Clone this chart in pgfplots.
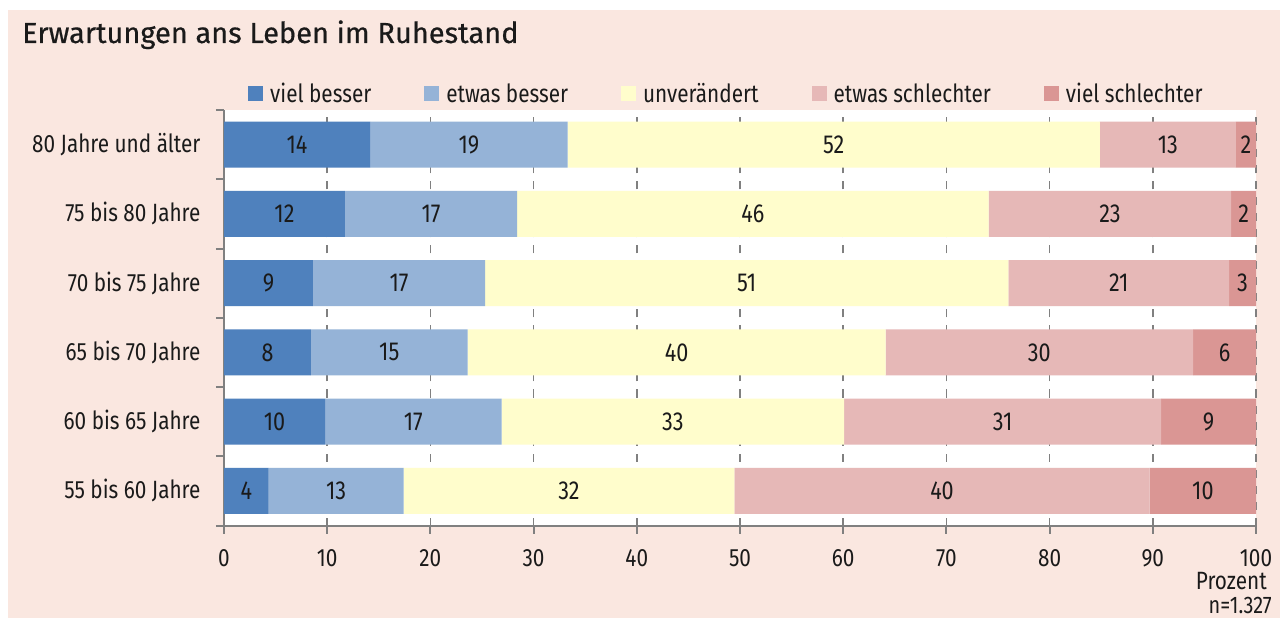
\documentclass[border=0pt]{standalone}
\usepackage{pgfplots}
\pgfplotsset{compat=1.18}
\usepackage{pgfplotstable}
\usepackage{fontspec}
\setmainfont{Fira Sans}[FakeStretch=0.83]
\newfontfamily\titlefont{Fira Sans}[FakeBold=0.5]
\definecolor{bgpeach}{RGB}{250,231,224}
\definecolor{cvb}{RGB}{79,129,189}
\definecolor{ceb}{RGB}{149,179,215}
\definecolor{cun}{RGB}{255,253,204}
\definecolor{ces}{RGB}{230,184,183}
\definecolor{cvs}{RGB}{218,150,148}
\definecolor{axgray}{RGB}{128,128,128}
\definecolor{txt}{RGB}{26,26,26}

% cat: 0 = 55 bis 60 ... 5 = 80 und aelter
\pgfplotstableread{
cat vb eb un es vs lvb leb lun les lvs
0 4.33 13.07 32.05 40.25 10.30 4 13 32 40 10
1 9.79 17.11 33.20 30.70 9.20 10 17 33 31 9
2 8.43 15.17 40.50 29.80 6.10 8 15 40 30 6
3 8.62 16.68 50.70 21.40 2.60 9 17 51 21 3
4 11.72 16.68 45.69 23.51 2.40 12 17 46 23 2
5 14.15 19.15 51.57 13.18 1.95 14 19 52 13 2
}\datatable

\newcommand{\fs}{\fontsize{25}{30}\selectfont}
\pgfplotsset{
  geom/.style={at={(224pt,93.5pt)}, anchor=south west,
    scale only axis, width=1032pt, height=415.5pt,
    xmin=0, xmax=100, ymin=-0.5, ymax=5.5},
  lab/.style={only marks, mark=none, nodes near coords, point meta=explicit symbolic,
    every node near coord/.append style={font=\fontsize{26}{30}\selectfont, text=txt, anchor=center}},
}

\begin{document}
\begin{tikzpicture}
\useasboundingbox (0pt,0pt) rectangle (1280pt,619pt);
\fill[bgpeach] (8pt,1pt) rectangle (1280pt,609pt);
\node[anchor=base west, inner sep=0pt, text=txt, font=\titlefont\fontsize{29}{33}\selectfont] at (22pt,576pt) {Erwartungen ans Leben im Ruhestand};
\begin{axis}[
  geom,
  xbar stacked, bar width=46pt,
  axis background/.style={fill=white},
  axis lines*=left,
  axis line style={axgray, line width=2pt, -},
  xtick={0,10,...,100},
  xmajorgrids,
  grid style={axgray, line width=1.5pt, dash pattern=on 8pt off 8pt},
  ytick={-0.5,0.5,...,5.5},
  yticklabels={55 bis 60 Jahre,60 bis 65 Jahre,65 bis 70 Jahre,70 bis 75 Jahre,75 bis 80 Jahre,80 Jahre und älter,{}},
  tick align=outside,
  major tick length=8pt,
  tick style={axgray, line width=2pt},
  /pgf/number format/assume math mode=true,
  xticklabel style={font=\fs, text=txt, yshift=-12.5pt},
  yticklabel style={font=\fs, text=txt, yshift=34.6pt, xshift=-12pt},
  legend style={at={(0.0233,1.0397)}, anchor=west, draw=none, fill=none,
    legend columns=-1, font=\fs, text=txt, inner sep=0pt,
    /tikz/every even column/.append style={column sep=51pt}},
  legsq/.style={legend image code/.code={\fill[##1] (0pt,-7.5pt) rectangle (15pt,7.5pt); \path (20pt,0pt);}},
]
\addplot[fill=cvb, draw=none, legsq] table[x=vb, y=cat] {\datatable};
\addlegendentry{viel besser}
\addplot[fill=ceb, draw=none, legsq] table[x=eb, y=cat] {\datatable};
\addlegendentry{etwas besser}
\addplot[fill=cun, draw=none, legsq] table[x=un, y=cat] {\datatable};
\addlegendentry{unverändert}
\addplot[fill=ces, draw=none, legsq] table[x=es, y=cat] {\datatable};
\addlegendentry{etwas schlechter}
\addplot[fill=cvs, draw=none, legsq] table[x=vs, y=cat] {\datatable};
\addlegendentry{viel schlechter}
\end{axis}
\begin{axis}[geom, hide axis, clip=false]
\addplot[lab] table[x expr={\thisrow{vb}/2}, y=cat, meta=lvb] {\datatable};
\addplot[lab] table[x expr={\thisrow{vb}+\thisrow{eb}/2}, y=cat, meta=leb] {\datatable};
\addplot[lab] table[x expr={\thisrow{vb}+\thisrow{eb}+\thisrow{un}/2}, y=cat, meta=lun] {\datatable};
\addplot[lab] table[x expr={\thisrow{vb}+\thisrow{eb}+\thisrow{un}+\thisrow{es}/2}, y=cat, meta=les] {\datatable};
\addplot[lab] table[x expr={100-\thisrow{vs}/2}, y=cat, meta=lvs] {\datatable};
\end{axis}
\node[anchor=east, inner sep=0pt, font=\fs, text=txt] at (1267pt,38pt) {Prozent};
\node[anchor=east, inner sep=0pt, font=\fontsize{24}{28}\selectfont, text=txt] at (1272pt,14pt) {n=1.327};
\end{tikzpicture}
\end{document}
